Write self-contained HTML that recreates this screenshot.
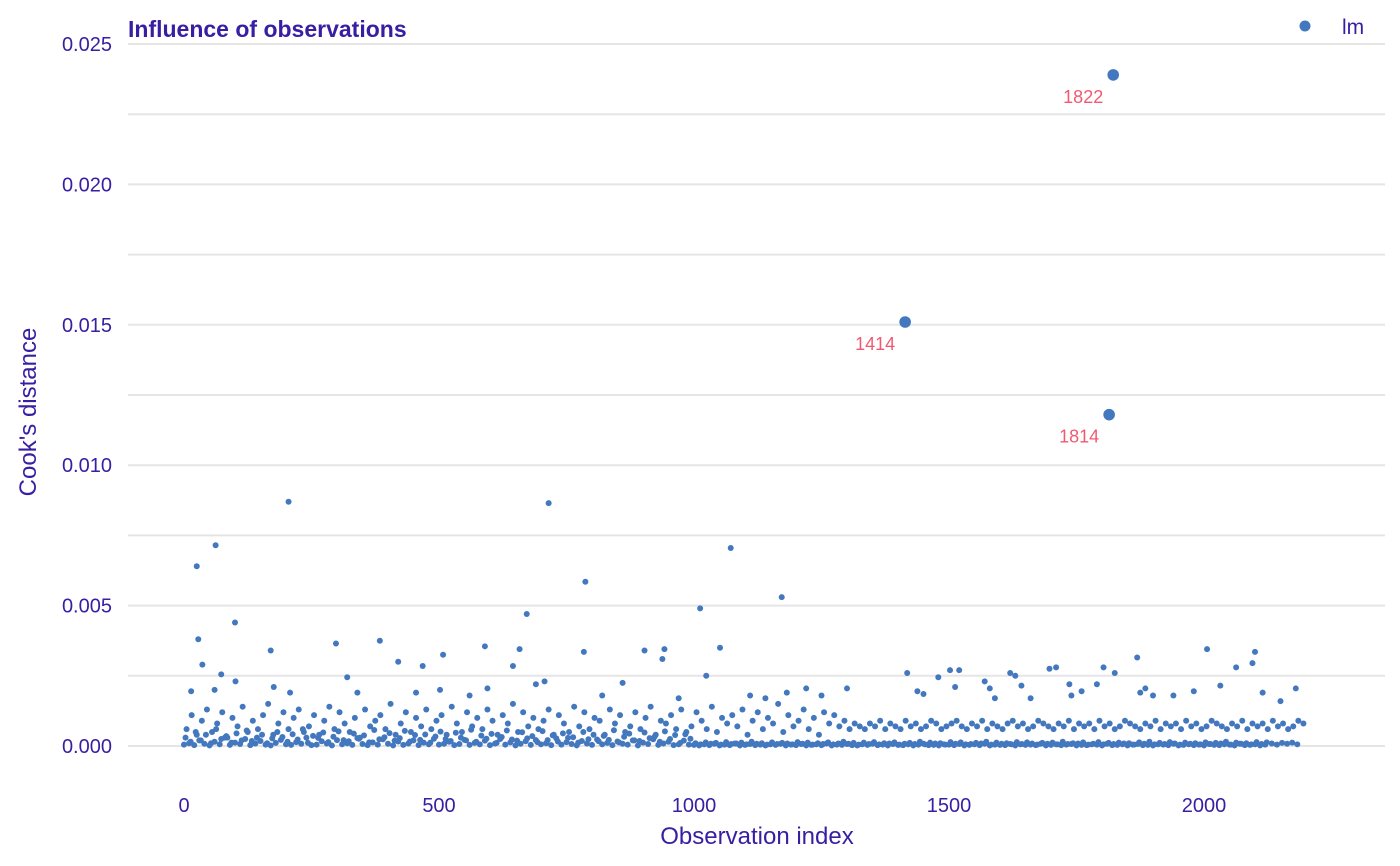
<!DOCTYPE html>
<html><head><meta charset="utf-8"><style>
body{margin:0;background:#fff;}
svg{display:block;font-family:"Liberation Sans",Arial,sans-serif;}
</style></head><body>
<svg id="chart" width="1400" height="866">
<text x="128" y="37" font-size="23" font-weight="bold" fill="#371ea3">Influence of observations</text>
<g id="grid"></g><g id="ticks"></g><g id="pts"></g><g id="labels"></g>
<circle cx="1305" cy="26" r="5.5" fill="#4378bf"/>
<text x="1342" y="34" font-size="21" fill="#371ea3">lm</text>
<text x="757" y="844" font-size="24" fill="#371ea3" text-anchor="middle">Observation index</text>
<text transform="translate(36,412) rotate(-90)" font-size="24" fill="#371ea3" text-anchor="middle">Cook's distance</text>
</svg>
<script>
const UNIT = 1e-4;
const xTicks = [0,500,1000,1500,2000];
const yTicks = [0,0.005,0.01,0.015,0.02,0.025];
const yTickLabels = ["0.000","0.005","0.010","0.015","0.020","0.025"];
const outlierIdx = [1822,1414,1814];
const outlierVal = [0.0239,0.0151,0.0118];
const notableIdx = [25,62,205,715,1072,787,1172,1012,672,100,28,384,298,590,1051,942,658,2006,170,903,784,2100,508,1869,938,420,2095,36,468,645,1710,1803,2063,1697,1502,1520,1620,1418,1825,73,1024,1630,1479,320,1570,707,101,1736,860,690,1642,1790,2032,1512,1580,2180,1885,595,1220,1300,176,14,208,502,1182,1438,1760,1980,2115,1940,1875,1590,1740,1450,1660,1900,2150,1250,1140,60,340,455,560,820,970,1110];
const notableVal = [64,71.5,87,86.5,70.5,58.5,53,49,47,44,38,37.5,36.5,35.5,35,34.5,34.5,34.5,34,34,33.5,33.5,32.5,31.5,31,30,29.5,29,28.5,28.5,28,28,28,27.5,27,27,26,26,26,25.5,25,25,24.5,24.5,23,23,23,22,22.5,22,21.5,22,21.5,21,20.5,20.5,20.5,20.5,20.5,20.5,21,19.5,19,20,19,19.5,19.5,19.5,19,18,19,17,18,18.5,17,18,16,18,17,20,19,19,18,18,17,18];
const lowVal = [0.5,1,0.3,2,0.8,0.2,1.5,0.6,3,0.4,1.2,0.7,2.5,0.3,0.9,1.8,0.5,0.2,1.1,2.2,0.6,0.4,1.4,0.8,3,0.3,0.5,1.7,0.9,0.2,2.1,0.6,1,0.4,2.8,0.7,0.3,1.3,0.5,2.4,0.8,0.2,1.6,0.4,0.9,2,0.3,1.2,0.6,2.6,0.5,0.8,1.5,0.3,0.7,2.2,0.4,1.1,0.6,1.9,0.3,0.9,2.5,0.5,1.3,0.2,0.8,1.7,0.4,2.1,0.6,1,0.3,2.7,0.5,1.4,0.7,0.2,1.8,0.9,0.4,2.3,0.6,1.1,0.3,1.6,0.8,0.5,2,0.2,1.2,0.7,2.4,0.4,0.9,1.5,0.3,0.6,1.9,0.5,
0.4,0.2,0.6,0.3,0.8,0.2,0.5,0.3,0.9,0.2,0.4,0.7,0.3,0.5,0.2,0.6,0.4,0.8,0.2,0.5,0.3,0.7,0.2,0.4,0.6,0.3,0.9,0.2,0.5,0.4,0.7,0.3,0.2,0.6,0.4,0.8,0.3,0.5,0.2,0.7,0.4,0.3,0.6,0.2,0.5,0.8,0.3,0.4,0.2,0.6,0.5,0.3,0.7,0.2,0.4,0.6,0.3,0.8,0.2,0.5,0.4,0.3,0.7,0.2,0.6,0.4,0.5,0.3,0.8,0.2,0.4,0.6,0.3,0.5,0.7,0.2,0.4,0.3,0.6,0.5,0.2,0.8,0.3,0.4,0.6,0.2,0.5,0.7,0.3,0.4,0.2,0.6,0.5,0.3,0.8,0.2,0.4,0.6,0.3,0.5,0.2,0.7,0.4,0.3,0.6,0.5,0.2,0.8,0.3,0.4,0.6,0.2,0.5];
const midVal = [6,11,4,9,13,5,8,12,3,10,7,14,5,9,6,11,15,4,8,12,6,10,13,5,7,11,4,9,14,6,12,8,5,10,3,13,7,9,11,6,15,4,8,12,5,10,7,13,6,9,11,4,14,8,5,12,7,10,6,13,9,4,11,8,15,5,12,7,10,6,9,13,4,11,8,5,14,7,12,6,10,9,4,13,8,11,5,7,12,6,10,14,4,9,8,11,6,13,5,7,
12,9,6,14,5,10,8,11,7,13,4,9,12,6,10,8,15,5,11,7,9,13,6,10,4,12,8,11,7,9,6,8,7,6,8,7,9,6,8,7,6,9,7,8,6,7,9,8,6,7,8,9,7,6,8,7,9,6,8,7,6,8,9,7,8,6,7,9,8,7,6,8,7,9,6,8,7,8,6,9,7,8,6,7,9,8,7,6,8,7,9,6,8,7,8,6,9,7,8,6,7,9,8,7,6,8,7,9,6,8,7,8,6,9,7,8,6,7,9,8];
const band2Val = [3,1.5,5,2,4,1,6,2.5,3.5,1.2,4.5,2,5.5,1.8,3,4,1,2.7,5,3.2,1.5,4.2,2.3,6,1.1,3.6,2.9,4.8,1.4,3.3,5.2,2.1,1.7,4.4,2.6,3.8,1.3,5.7,2.4,3.1,4.6,1.9,2.8,5.4,1.6,3.9,2.2,4.1,1.2,3.4,5.1,2.5,1.8,4.7,3,2,5.8,1.5,3.7,2.6,4.3,1.1,3.2,5.5,2.3,1.9,4.9,2.7,3.5,1.4,5.3,2.1,3.8,1.6,4.5,2.9,3.1,1.2,5,2.4,4,1.7,3.6,2.2,5.6,1.3,3.3,4.4,2,1.8,4.8,2.8,3.4,1.5,5.2,2.5,3.9,1.1,4.2,2.6,
1,0.6,1.3,0.8,1.1,0.5,1.4,0.7,0.9,1.2,0.6,1.5,0.8,1,0.5,1.3,0.7,1.1,0.9,0.6,1.4,0.8,1.2,0.5,1,0.7,1.3,0.6,0.9,1.5,0.8,1.1,0.5,1.2,0.7,1.4,0.6,1,0.9,1.3,0.5,0.8,1.1,0.7,1.5,0.6,1.2,0.9,1,0.5,1.4,0.8,1.3,0.6,0.7,1.1,0.9,1.5,0.5,1.2,0.8,1,0.6,1.4,0.7,1.3,0.9,0.5,1.1,0.8,1.2,0.6,1.5,0.7,1,0.9,1.3,0.5,0.8,1.4,0.6,1.1,0.7,1.2,0.9,1,0.5,1.3,0.8,1.5,0.6,1.1,0.7,1.4,0.9,0.5,1.2,0.8,1,0.6,1.3,0.7,1.1,0.9,1.5,0.5,1.2,0.8,1,0.6,1.4,0.7,1.3,0.9,0.5,1.1,0.8,1.2,0.6];
const outlierLabels = ["1822","1414","1814"];

const NS="http://www.w3.org/2000/svg";
const X0=184, XS=(1204-184)/2000, Y0=746, YS=(746-44)/0.025;
const xScale=v=>X0+v*XS, yScale=v=>Y0-v*YS;
const grid=document.getElementById('grid'), ticks=document.getElementById('ticks'), pts=document.getElementById('pts'), labels=document.getElementById('labels');
function mk(tag,attrs,parent){const e=document.createElementNS(NS,tag);for(const k in attrs)e.setAttribute(k,attrs[k]);parent.appendChild(e);return e;}
for(let i=0;i<=10;i++){
  const v=i*0.0025;
  const l=mk('line',{x1:128,x2:1385,y1:yScale(v),y2:yScale(v),stroke:'#e5e5e5','stroke-width':2},grid);
  
  
}
yTicks.forEach((v,i)=>{
  const t=mk('text',{x:112,y:yScale(v)+7,'text-anchor':'end','font-size':20,fill:'#371ea3'},ticks);
  t.textContent=yTickLabels[i];
  
  
});
xTicks.forEach(v=>{
  const t=mk('text',{x:xScale(v),y:812,'text-anchor':'middle','font-size':20,fill:'#371ea3'},ticks);
  t.textContent=String(v);
  
  
});
function dot(ix,val,r){
  const c=mk('circle',{cx:xScale(ix),cy:yScale(val),r:r,fill:'#4378bf'},pts);
  
  
}
lowVal.forEach((v,i)=>{ if(i*10<=2200) dot(i*10,v*UNIT,3); });
midVal.forEach((v,i)=>{ if(i*10+5<=2200) dot(i*10+5,v*UNIT,3); });
band2Val.forEach((v,i)=>{ if(i*10+3<=2200) dot(i*10+3,v*UNIT,3); });
notableIdx.forEach((ix,i)=>dot(ix,notableVal[i]*UNIT,3));
outlierIdx.forEach((ix,i)=>{
  dot(ix,outlierVal[i],5.8);
  const t=mk('text',{x:xScale(ix)-10,y:yScale(outlierVal[i])+28,'text-anchor':'end','font-size':18,fill:'#f05a71'},labels);
  t.textContent=outlierLabels[i];
  
  
});
</script>
</body></html>
